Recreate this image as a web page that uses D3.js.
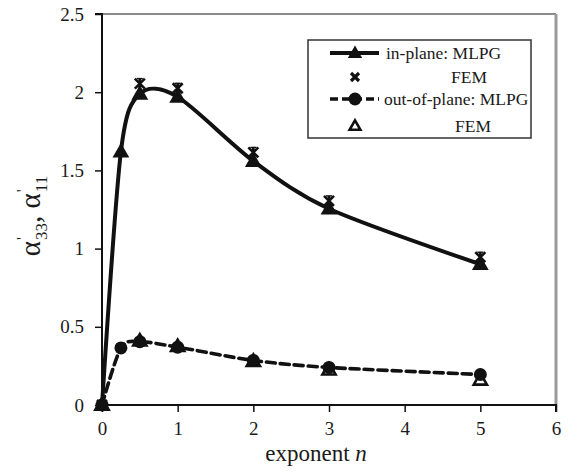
<!DOCTYPE html>
<html>
<head>
<meta charset="utf-8">
<script src="https://cdn.jsdelivr.net/npm/d3@7"></script>
<style>
  html, body { margin: 0; padding: 0; background: #fff; }
  svg, svg text { font-family: "Liberation Serif", "Times New Roman", serif; }
  svg { display: block; }
</style>
</head>
<body>
<svg id="chart" width="579" height="473"></svg>
<script>
// Exponent n values at which the coefficients were computed
const exponentN = [0, 0.25, 0.5, 1, 2, 3, 5];
const inPlaneMLPG = [0, 1.62, 1.99, 1.97, 1.56, 1.255, 0.9];
const outPlaneMLPG = [0, 0.365, 0.405, 0.37, 0.285, 0.24, 0.195];
// FEM reference values
const femN = [0, 0.5, 1, 2, 3, 5];
const inPlaneFEM = [0, 2.055, 2.025, 1.615, 1.305, 0.945];
const outPlaneFEM = [0, 0.41, 0.375, 0.28, 0.225, 0.16];

const xTicks = [0, 1, 2, 3, 4, 5, 6];
const yTicks = [0, 0.5, 1, 1.5, 2, 2.5];
const legendLabels = ["in-plane: MLPG", "FEM", "out-of-plane: MLPG", "FEM"];

const FONT = "Liberation Serif";
const svg = d3.select("#chart");
const L = 102, R = 556, T = 14, B = 405;

const x = d3.scaleLinear().domain([0, 6]).range([L, R]);
const y = d3.scaleLinear().domain([0, 2.5]).range([B, T]);

// frame: top and right in gray
svg.append("line").attr("x1", L).attr("x2", R).attr("y1", T).attr("y2", T)
  .attr("stroke", "#8a8a8a").attr("stroke-width", 2);
svg.append("line").attr("x1", R).attr("x2", R).attr("y1", T).attr("y2", B)
  .attr("stroke", "#9a9a9a").attr("stroke-width", 3);

// axes
const xAxis = d3.axisBottom(x).tickValues(xTicks).tickSize(7).tickPadding(10).tickFormat(d3.format("d"));
const yAxis = d3.axisLeft(y).tickValues(yTicks).tickSize(7).tickPadding(11).tickFormat(d => String(d));

const gx = svg.append("g").attr("transform", `translate(0,${B})`).call(xAxis);
const gy = svg.append("g").attr("transform", `translate(${L},0)`).call(yAxis);
[gx, gy].forEach(g => {
  g.attr("font-family", FONT).attr("font-size", 19);
  g.select(".domain").attr("stroke", "#111").attr("stroke-width", 2);
  g.selectAll(".tick line").attr("stroke", "#111").attr("stroke-width", 1.5);
  g.selectAll(".tick text").attr("fill", "#1a1a1a");
});
gx.select(".domain").attr("d", `M${L},0H${R}V7`);
gy.select(".domain").attr("d", `M-7,${T}H0V${B}`);

// smoothed curves through the MLPG points
const lineGen = d3.line().x(d => x(d[0])).y(d => y(d[1])).curve(d3.curveCardinal.tension(0.15));
const inPts = exponentN.map((n, i) => [n, inPlaneMLPG[i]]);
const outPts = exponentN.map((n, i) => [n, outPlaneMLPG[i]]);

svg.append("path").datum(outPts).attr("d", lineGen).attr("fill", "none")
  .attr("stroke", "#111").attr("stroke-width", 3.6).attr("stroke-dasharray", "9,5").attr("stroke-linecap", "round");
svg.append("path").datum(inPts).attr("d", lineGen).attr("fill", "none")
  .attr("stroke", "#111").attr("stroke-width", 4);

// marker shapes
const triPath = s => `M0,${-s * 0.62}L${s * 0.6},${s * 0.42}L${-s * 0.6},${s * 0.42}Z`;
function drawFilledTri(g, s) {
  g.append("path").attr("d", triPath(s)).attr("fill", "#111");
}
function drawOpenTri(g, s) {
  g.append("path").attr("d", triPath(s)).attr("fill", "#fff").attr("stroke", "#111").attr("stroke-width", 2.6)
    .attr("stroke-linejoin", "miter");
}
function drawStar(g, s) {
  const h = s / 2;
  g.append("path").attr("d", `M${-h},${-h}L${h},${h}M${h},${-h}L${-h},${h}M0,${-h}V${h}`)
    .attr("stroke", "#111").attr("stroke-width", 2.6).attr("fill", "none");
  g.append("path").attr("d", `M${-h * 0.6},${-h}H${h * 0.6}`)
    .attr("stroke", "#111").attr("stroke-width", 1.4);
}
function drawCross(g, s) {
  const h = s / 2;
  g.append("path").attr("d", `M${-h},${-h}L${h},${h}M${h},${-h}L${-h},${h}`)
    .attr("stroke", "#111").attr("stroke-width", 3.2).attr("fill", "none");
}
function drawDot(g, s) {
  g.append("circle").attr("r", s / 2).attr("fill", "#111");
}

function plotMarkers(ns, vals, fn, s) {
  ns.forEach((n, i) => {
    const g = svg.append("g").attr("transform", `translate(${x(n)},${y(vals[i])})`);
    fn(g, s);
  });
}
plotMarkers(femN, outPlaneFEM, drawOpenTri, 11);
plotMarkers(exponentN, outPlaneMLPG, drawDot, 13);
plotMarkers(exponentN, inPlaneMLPG, drawFilledTri, 14);
plotMarkers(femN, inPlaneFEM, drawStar, 10);

// legend
const lg = svg.append("g").attr("font-family", FONT);
lg.append("rect").attr("x", 308).attr("y", 40).attr("width", 223).attr("height", 98)
  .attr("fill", "#fff").attr("stroke", "#333").attr("stroke-width", 1.5);
const rowsY = [53, 77, 99, 126];
const sampleX1 = 330, sampleX2 = 379, markX = 355;
lg.append("line").attr("x1", sampleX1).attr("x2", sampleX2).attr("y1", rowsY[0]).attr("y2", rowsY[0])
  .attr("stroke", "#111").attr("stroke-width", 4);
drawFilledTri(lg.append("g").attr("transform", `translate(${markX},${rowsY[0]})`), 12);
drawCross(lg.append("g").attr("transform", `translate(${markX},${rowsY[1]})`), 8);
lg.append("line").attr("x1", sampleX1).attr("x2", sampleX2).attr("y1", rowsY[2]).attr("y2", rowsY[2])
  .attr("stroke", "#111").attr("stroke-width", 3.6).attr("stroke-dasharray", "8,4");
drawDot(lg.append("g").attr("transform", `translate(${markX},${rowsY[2]})`), 13);
drawOpenTri(lg.append("g").attr("transform", `translate(${markX},${rowsY[3]})`), 9);

const legendX = [386, 451, 384, 455];
legendLabels.forEach((t, i) => {
  lg.append("text").attr("x", legendX[i]).attr("y", rowsY[i]).attr("dy", "0.35em")
    .attr("font-size", 17.5).attr("fill", "#1a1a1a").text(t);
});

// axis titles
const xt = svg.append("text").attr("x", 316).attr("y", 461).attr("text-anchor", "middle")
  .attr("font-family", FONT).attr("font-size", 23).attr("fill", "#1a1a1a");
xt.append("tspan").text("exponent ");
xt.append("tspan").attr("font-style", "italic").text("n");

const yt = svg.append("text").attr("transform", "translate(40,216) rotate(-90)").attr("text-anchor", "middle")
  .attr("font-family", FONT).attr("font-size", 29).attr("fill", "#1a1a1a");
function alphaTerm(sub, lead) {
  yt.append("tspan").attr("dy", lead).text(sub === "33" ? "α" : ", α");
  yt.append("tspan").attr("dy", -12).attr("dx", 1).attr("font-size", 17).text("'");
  yt.append("tspan").attr("dy", 19).attr("dx", -3).attr("font-size", 17).text(sub);
}
alphaTerm("33", 0);
alphaTerm("11", -7);
</script>
</body>
</html>
